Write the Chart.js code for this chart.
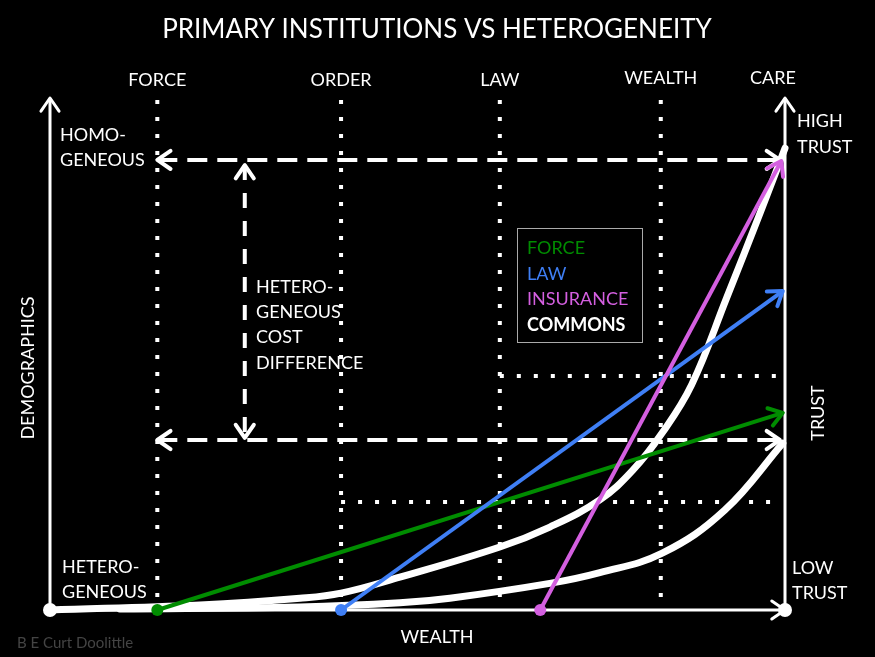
<!DOCTYPE html>
<html>
<head>
<meta charset="utf-8">
<script src="https://cdn.jsdelivr.net/npm/chart.js@4.4.1/dist/chart.umd.min.js"></script>
<style>
  html, body { margin: 0; padding: 0; background: #000; }
  canvas { display: block; }
</style>
</head>
<body>
<canvas id="chart" width="875" height="657"></canvas>
<script>
// wealth axis runs 0..100 left to right, trust axis 0..100 bottom to top
const institutions = ['FORCE', 'ORDER', 'LAW', 'WEALTH', 'CARE']
const institutionX = [14.6, 39.6, 61.2, 83.1, 100]

const commonsHighX = [0, 20.4, 34.0, 39.6, 47.6, 61.2, 68.0, 74.8, 79.3, 83.3, 87.3, 92.1, 96.6, 100]
const commonsHighY = [0, 1.0, 2.3, 3.3, 6.4, 12.3, 16.2, 21.5, 27.3, 34.6, 44.0, 61.1, 77.5, 90.2]
const commonsLowX = [9.5, 34.0, 47.6, 54.4, 68.0, 74.8, 83.3, 91.8, 99.7]
const commonsLowY = [0.2, 0.6, 1.4, 2.3, 5.2, 7.3, 11.1, 19.5, 32.6]

const forceX = [14.6, 99.7]
const forceY = [0, 38.5]
const lawX = [39.6, 99.7]
const lawY = [0, 62.3]
const insuranceX = [66.7, 99.5]
const insuranceY = [0, 87.7]

const homogeneousY = 87.9
const heterogeneousY = 33.2
const costDiffX = 26.5
const costDiffY = [86.9, 33.6]
const trustGridY = [45.7, 21.1]
const trustGridFromX = [61.2, 39.6]

const legendLabels = ['FORCE', 'LAW', 'INSURANCE', 'COMMONS']
const legendColors = ['#008c00', '#3f7ff5', '#d45fe0', '#ffffff']

const FONT = 'Lato, "Open Sans", sans-serif'

function pts(xs, ys) {
  return xs.map((x, i) => ({ x: x, y: ys[i] }))
}

const datasets = []

// dotted institution lines
institutionX.slice(0, 4).forEach(x => {
  datasets.push({
    data: [{ x: x, y: 99.6 }, { x: x, y: 0 }],
    borderColor: '#fff', borderWidth: 4, borderDash: [4, 13], borderCapStyle: 'butt',
    pointRadius: 0, order: 20
  })
})
trustGridY.forEach((y, i) => {
  datasets.push({
    data: [{ x: trustGridFromX[i], y: y }, { x: 99.3, y: y }],
    borderColor: '#fff', borderWidth: 4, borderDash: [4, 13], borderCapStyle: 'butt',
    pointRadius: 0, order: 20
  })
})
// dashed demographic arrows
;[homogeneousY, heterogeneousY].forEach(y => {
  datasets.push({
    data: [{ x: institutionX[0], y: y }, { x: 99.3, y: y }],
    borderColor: '#fff', borderWidth: 4, borderDash: [20, 10], borderCapStyle: 'butt',
    pointRadius: 0, order: 15, arrowStart: true, arrowEnd: true
  })
})
datasets.push({
  data: [{ x: costDiffX, y: costDiffY[0] }, { x: costDiffX, y: costDiffY[1] }],
  borderColor: '#fff', borderWidth: 4, borderDash: [15, 13], borderCapStyle: 'butt',
  pointRadius: 0, order: 15, arrowStart: true, arrowEnd: true
})
// axes
datasets.push({ data: [{ x: 0, y: 0 }, { x: 0, y: 100 }], borderColor: '#fff', borderWidth: 3,
  pointRadius: [7, 0], pointBackgroundColor: '#fff', pointBorderWidth: 0, order: 10, arrowEnd: true })
datasets.push({ data: [{ x: 100, y: 0 }, { x: 100, y: 100 }], borderColor: '#fff', borderWidth: 3,
  pointRadius: [7, 0], pointBackgroundColor: '#fff', pointBorderWidth: 0, order: 10, arrowEnd: true })
datasets.push({ data: [{ x: 0, y: 0 }, { x: 100, y: 0 }], borderColor: '#fff', borderWidth: 3,
  pointRadius: 0, order: 10, arrowEnd: true })
// commons curves
datasets.push({ data: pts(commonsHighX, commonsHighY), borderColor: '#fff', borderWidth: 7,
  borderCapStyle: 'round', tension: 0.4, pointRadius: 0, order: 5 })
datasets.push({ data: pts(commonsLowX, commonsLowY), borderColor: '#fff', borderWidth: 7,
  borderCapStyle: 'round', tension: 0.4, pointRadius: 0, order: 5 })
// institutions
datasets.push({ data: pts(forceX, forceY), borderColor: legendColors[0], borderWidth: 4,
  pointRadius: [6, 0], pointBackgroundColor: legendColors[0], pointBorderWidth: 0, order: 3, arrowEnd: true })
datasets.push({ data: pts(lawX, lawY), borderColor: legendColors[1], borderWidth: 4,
  pointRadius: [6, 0], pointBackgroundColor: legendColors[1], pointBorderWidth: 0, order: 2, arrowEnd: true })
datasets.push({ data: pts(insuranceX, insuranceY), borderColor: legendColors[2], borderWidth: 4,
  pointRadius: [6, 0], pointBackgroundColor: legendColors[2], pointBorderWidth: 0, order: 1, arrowEnd: true })

function drawHead(ctx, tip, from, color, width) {
  const a = Math.atan2(tip.y - from.y, tip.x - from.x)
  const len = 16, spread = 0.6
  ctx.save()
  ctx.setLineDash([])
  ctx.strokeStyle = color
  ctx.lineWidth = width
  ctx.lineCap = 'round'
  ctx.lineJoin = 'round'
  ctx.beginPath()
  ctx.moveTo(tip.x - len * Math.cos(a - spread), tip.y - len * Math.sin(a - spread))
  ctx.lineTo(tip.x, tip.y)
  ctx.lineTo(tip.x - len * Math.cos(a + spread), tip.y - len * Math.sin(a + spread))
  ctx.stroke()
  ctx.restore()
}

const arrowPlugin = {
  id: 'arrows',
  afterDatasetsDraw(chart) {
    const ctx = chart.ctx
    chart.data.datasets.forEach((ds, i) => {
      const p = chart.getDatasetMeta(i).data
      if (ds.arrowEnd) drawHead(ctx, p[p.length - 1], p[p.length - 2], ds.borderColor, Math.min(ds.borderWidth, 4))
      if (ds.arrowStart) drawHead(ctx, p[0], p[1], ds.borderColor, Math.min(ds.borderWidth, 4))
    })
  }
}

function text(ctx, str, x, y, opts) {
  opts = opts || {}
  ctx.save()
  ctx.font = (opts.weight || 'normal') + ' ' + (opts.size || 18) + 'px ' + FONT
  ctx.fillStyle = opts.color || '#fff'
  ctx.textAlign = opts.align || 'left'
  ctx.textBaseline = 'middle'
  ctx.translate(x, y)
  if (opts.rotate) ctx.rotate(opts.rotate)
  ctx.fillText(str, 0, 0)
  ctx.restore()
}

const labelPlugin = {
  id: 'labels',
  afterDraw(chart) {
    const ctx = chart.ctx
    const xs = chart.scales.x
    text(ctx, 'PRIMARY INSTITUTIONS VS HETEROGENEITY', 437, 30, { size: 26, align: 'center' })
    institutions.forEach((name, i) => {
      const off = name === 'CARE' ? -12 : 0
      const y = (name === 'WEALTH' || name === 'CARE') ? 78 : 80
      text(ctx, name, xs.getPixelForValue(institutionX[i]) + off, y, { align: 'center' })
    })
    text(ctx, 'HOMO-', 60, 135)
    text(ctx, 'GENEOUS', 60, 160)
    text(ctx, 'HETERO-', 62, 567)
    text(ctx, 'GENEOUS', 62, 592)
    text(ctx, 'HIGH', 797, 121)
    text(ctx, 'TRUST', 797, 147)
    text(ctx, 'LOW', 792, 568)
    text(ctx, 'TRUST', 792, 593)
    ;['HETERO-', 'GENEOUS', 'COST', 'DIFFERENCE'].forEach((s, i) => {
      text(ctx, s, 256, 287 + i * 25.3)
    })
    text(ctx, 'DEMOGRAPHICS', 28, 368, { align: 'center', rotate: -Math.PI / 2 })
    text(ctx, 'TRUST', 818, 413, { align: 'center', rotate: -Math.PI / 2 })
    text(ctx, 'WEALTH', 437, 637, { align: 'center' })
    text(ctx, 'B E Curt Doolittle', 17, 643, { size: 15, color: '#444' })

    // legend box
    ctx.save()
    ctx.strokeStyle = '#aaa'
    ctx.lineWidth = 1
    ctx.strokeRect(517.5, 228.5, 125, 114)
    ctx.restore()
    legendLabels.forEach((s, i) => {
      text(ctx, s, 527, 248 + i * 25.7, { color: legendColors[i], weight: i === 3 ? 'bold' : 'normal' })
    })
  }
}

new Chart(document.getElementById('chart'), {
  type: 'scatter',
  data: { datasets: datasets.map(d => Object.assign({ showLine: true, fill: false, clip: false }, d)) },
  options: {
    responsive: false,
    animation: false,
    events: [],
    layout: { padding: { left: 50, right: 90, top: 98, bottom: 47 } },
    scales: {
      x: { type: 'linear', min: 0, max: 100, display: false },
      y: { type: 'linear', min: 0, max: 100, display: false }
    },
    plugins: { legend: { display: false }, tooltip: { enabled: false } }
  },
  plugins: [arrowPlugin, labelPlugin]
})
</script>
</body>
</html>
